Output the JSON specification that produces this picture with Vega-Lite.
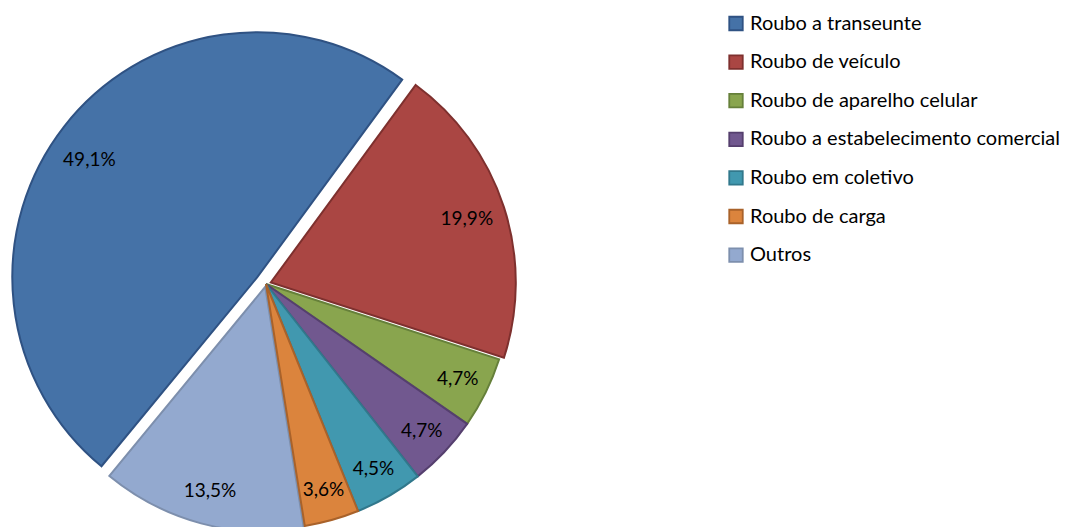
{
  "$schema": "https://vega.github.io/schema/vega-lite/v6.json",
  "width": 532,
  "height": 568,
  "padding": 0,
  "autosize": {"type": "pad"},
  "background": "white",
  "config": {
    "view": {"stroke": null},
    "legend": {
      "title": null,
      "orient": "none",
      "legendX": 726,
      "legendY": 13.5,
      "symbolType": "square",
      "symbolSize": 182,
      "symbolStrokeWidth": 1.8,
      "symbolOpacity": 1,
      "labelFont": "Lato",
      "labelFontSize": 20,
      "labelColor": "#000000",
      "labelOffset": 4,
      "rowPadding": 16.6,
      "padding": 0,
      "labelLimit": 400
    }
  },
  "data": {
    "values": [
      {"cat": "Roubo a transeunte", "value": 49.1, "label": "49,1%", "order": 1},
      {"cat": "Roubo de veículo", "value": 19.9, "label": "19,9%", "order": 2},
      {"cat": "Roubo de aparelho celular", "value": 4.7, "label": "4,7%", "order": 3},
      {"cat": "Roubo a estabelecimento comercial", "value": 4.7, "label": "4,7%", "order": 4},
      {"cat": "Roubo em coletivo", "value": 4.5, "label": "4,5%", "order": 5},
      {"cat": "Roubo de carga", "value": 3.6, "label": "3,6%", "order": 6},
      {"cat": "Outros", "value": 13.5, "label": "13,5%", "order": 7}
    ]
  },
  "transform": [
    {"stack": "value", "groupby": [], "sort": [{"field": "order", "order": "ascending"}], "as": ["start", "end"]}
  ],
  "layer": [
    {
      "transform": [{"filter": "datum.cat === 'Roubo a transeunte'"}],
      "mark": {"type": "arc", "outerRadius": 245, "xOffset": -8.7, "yOffset": -6.8, "strokeWidth": 2, "strokeJoin": "miter"},
      "encoding": {
        "theta": {"field": "start", "type": "quantitative", "scale": {"domain": [0, 100], "range": [3.831, 10.114]}},
        "theta2": {"field": "end"},
        "fill": {"field": "cat", "type": "nominal", "sort": {"field": "order"}, "scale": {"domain": ["Roubo a transeunte", "Roubo de veículo", "Roubo de aparelho celular", "Roubo a estabelecimento comercial", "Roubo em coletivo", "Roubo de carga", "Outros"], "range": ["#4572A7", "#AA4643", "#89A54E", "#71588F", "#4198AF", "#DB843D", "#93A9CF"]}},
        "stroke": {"field": "cat", "type": "nominal", "sort": {"field": "order"}, "scale": {"domain": ["Roubo a transeunte", "Roubo de veículo", "Roubo de aparelho celular", "Roubo a estabelecimento comercial", "Roubo em coletivo", "Roubo de carga", "Outros"], "range": ["#2F5283", "#7E302E", "#66803A", "#553F6E", "#31788C", "#A9622A", "#7D8FAD"]}}
      }
    },
    {
      "transform": [{"filter": "datum.cat === 'Roubo de veículo'"}],
      "mark": {"type": "arc", "outerRadius": 245, "xOffset": 4.8, "yOffset": -1.5, "strokeWidth": 2, "strokeJoin": "miter"},
      "encoding": {
        "theta": {"field": "start", "type": "quantitative"},
        "theta2": {"field": "end"},
        "fill": {"field": "cat", "type": "nominal"},
        "stroke": {"field": "cat", "type": "nominal"}
      }
    },
    {
      "transform": [{"filter": "datum.cat === 'Outros'"}],
      "mark": {"type": "arc", "outerRadius": 245, "xOffset": -0.8, "yOffset": 2.9, "strokeWidth": 2, "strokeJoin": "miter"},
      "encoding": {
        "theta": {"field": "start", "type": "quantitative"},
        "theta2": {"field": "end"},
        "fill": {"field": "cat", "type": "nominal"},
        "stroke": {"field": "cat", "type": "nominal"}
      }
    },
    {
      "transform": [{"filter": "datum.cat !== 'Outros' && datum.cat !== 'Roubo de veículo' && datum.cat !== 'Roubo a transeunte'"}],
      "mark": {"type": "arc", "outerRadius": 245, "strokeWidth": 2, "strokeJoin": "miter"},
      "encoding": {
        "theta": {"field": "start", "type": "quantitative"},
        "theta2": {"field": "end"},
        "fill": {"field": "cat", "type": "nominal"},
        "stroke": {"field": "cat", "type": "nominal"}
      }
    },
    {
      "mark": {"type": "text", "radius": 205, "thetaOffset": -0.05, "xOffset": -8.7, "yOffset": -6.8, "font": "Lato", "fontSize": 19, "color": "#000000"},
      "encoding": {
        "theta": {"field": "value", "type": "quantitative", "stack": true},
        "order": {"field": "order"},
        "text": {"condition": {"test": "datum.cat === 'Roubo a transeunte'", "field": "label"}, "value": ""}
      }
    },
    {
      "mark": {"type": "text", "radius": 206, "xOffset": 4.8, "yOffset": -1.5, "font": "Lato", "fontSize": 19, "color": "#000000"},
      "encoding": {
        "theta": {"field": "value", "type": "quantitative", "stack": true},
        "order": {"field": "order"},
        "text": {"condition": {"test": "datum.cat === 'Roubo de veículo'", "field": "label"}, "value": ""}
      }
    },
    {
      "mark": {"type": "text", "radius": 214, "font": "Lato", "fontSize": 19, "color": "#000000"},
      "encoding": {
        "theta": {"field": "value", "type": "quantitative", "stack": true},
        "order": {"field": "order"},
        "text": {"condition": {"test": "datum.cat !== 'Roubo de veículo' && datum.cat !== 'Roubo a transeunte'", "field": "label"}, "value": ""}
      }
    }
  ]
}
